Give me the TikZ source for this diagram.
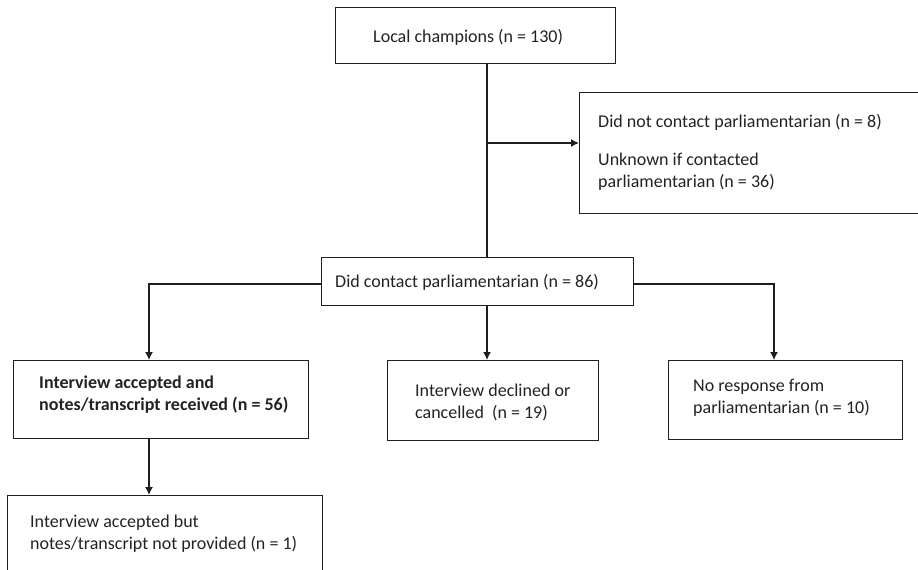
\documentclass[tikz,border=0pt]{standalone}
\usepackage{fontspec}
\setmainfont{Carlito}
\usetikzlibrary{arrows.meta}
\definecolor{linec}{HTML}{1E1E1E}
\definecolor{textc}{HTML}{222222}
\begin{document}
\begin{tikzpicture}[x=1pt,y=-1pt,
  box/.style={draw=linec, line width=1pt, anchor=north west, inner sep=0pt},
  txt/.style={anchor=base west, inner sep=0pt, text=textc, align=left,
    font=\fontsize{18}{22}\selectfont},
  conn/.style={draw=linec, line width=1.3pt},
  arr/.style={conn, -{Latex[length=8pt,width=8pt]}}]
\useasboundingbox (0,0) rectangle (918,570);
% boxes
\node[box, minimum width=280pt, minimum height=56pt] (top) at (335,7) {};
\node[box, minimum width=346pt, minimum height=121pt] (side) at (579,92) {};
\node[box, minimum width=312pt, minimum height=48pt] (mid) at (321,257) {};
\node[box, minimum width=295pt, minimum height=78pt] (acc) at (13,360) {};
\node[box, minimum width=211pt, minimum height=80pt] (dec) at (387,360) {};
\node[box, minimum width=234pt, minimum height=79pt] (nor) at (668,360) {};
\node[box, minimum width=315pt, minimum height=90pt] (notp) at (7,495) {};
% texts (base = baseline of the last line)
\node[txt] (ttop) at (373,42) {Local champions (n = 130)};
\node[txt] (tside1) at (598,127) {Did not contact parliamentarian (n = 8)};
\node[txt] (tside2) at (598,187) {Unknown if contacted\\parliamentarian (n = 36)};
\node[txt] (tmid) at (335,287) {Did contact parliamentarian (n = 86)};
\node[txt, font=\fontsize{18}{22}\selectfont\bfseries] (tacc) at (39,410) {Interview accepted and\\notes/transcript received (n = 56)};
\node[txt] (tdec) at (415,418) {Interview declined or\\cancelled\ \ (n = 19)};
\node[txt] (tnor) at (693,413) {No response from\\parliamentarian (n = 10)};
\node[txt] (tnotp) at (30,549) {Interview accepted but\\notes/transcript not provided (n = 1)};
% connectors
\coordinate (j1) at (487,143);
\draw[conn] (top.south -| j1) -- (mid.north -| j1);
\draw[arr] (j1) -- (side.west |- j1);
\coordinate (lb) at (149,284);
\coordinate (rb) at (774,284);
\draw[arr] (mid.west |- lb) -- (lb) -- (acc.north -| lb);
\draw[arr] (mid.south -| j1) -- (dec.north -| j1);
\draw[arr] (mid.east |- rb) -- (rb) -- (nor.north -| rb);
\draw[arr] (acc.south -| lb) -- (notp.north -| lb);
\end{tikzpicture}
\end{document}
